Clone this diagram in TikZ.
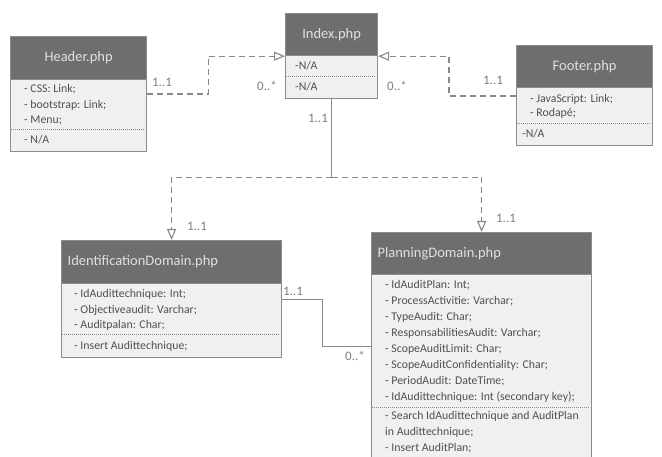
\documentclass[tikz,border=0pt]{standalone}
\usepackage{fontspec}
\setmainfont{Carlito}
\usetikzlibrary{arrows.meta}

\definecolor{band}{HTML}{6E6E6E}
\definecolor{boxbg}{HTML}{F0F0F0}
\definecolor{edge}{HTML}{8C8C8C}
\definecolor{bodytext}{HTML}{505050}
\definecolor{linkgray}{HTML}{888888}
\definecolor{multgray}{HTML}{857C74}

\tikzset{
	classbox/.style={draw=edge, line width=1.2pt, fill=boxbg, anchor=north west, inner sep=0pt},
	classtitle/.style={draw=edge, line width=1.2pt, fill=band, anchor=north west, inner xsep=6pt, inner ysep=0pt, text=white!88!black, font=\fontsize{14.5}{16}\selectfont},
	members/.style={anchor=west, align=left, inner sep=0pt, text=bodytext, font=\fontsize{11.8}{15.5}\selectfont},
	sepline/.style={draw=edge, densely dotted, line width=1pt},
	dep/.style={draw=linkgray, line width=1.1pt, dash pattern=on 6pt off 4pt, -{Triangle[open, length=11pt, width=9pt, fill=white]}},
	assoc/.style={draw=linkgray, line width=0.9pt},
	mult/.style={text=multgray, font=\fontsize{13}{14}\selectfont, inner sep=0pt}
}

\begin{document}
\begin{tikzpicture}[x=1pt, y=-1pt]
	\useasboundingbox (0,0) rectangle (662,457);
	\clip (0,0) rectangle (662,457);

	\node[classbox, minimum width=136pt, minimum height=115pt] (header) at (10,36) {};
	\node[classtitle, text width=124pt, align=center, minimum height=43pt] (header-t) at (10,36) {Header.php};
	\node[members] (header-a) at (24,105) {- CSS: Link;\\- bootstrap: Link;\\- Menu;};
	\draw[sepline] (11,130) -- (145,130);
	\node[members] (header-m) at (24,140) {- N/A};

	\node[classbox, minimum width=92pt, minimum height=85pt] (index) at (285,13) {};
	\node[classtitle, text width=80pt, align=center, minimum height=42pt] (index-t) at (285,13) {Index.php};
	\node[members] (index-a) at (295,66) {-N/A};
	\draw[sepline] (286,77) -- (376,77);
	\node[members] (index-m) at (295,87) {-N/A};

	\node[classbox, minimum width=136pt, minimum height=100pt] (footer) at (516,45) {};
	\node[classtitle, text width=124pt, align=center, minimum height=42pt] (footer-t) at (516,45) {Footer.php};
	\node[members, font=\fontsize{11.8}{14}\selectfont] (footer-a) at (530,106) {- JavaScript: Link;\\- Rodapé;};
	\draw[sepline] (517,124) -- (651,124);
	\node[members] (footer-m) at (522,134) {-N/A};

	\node[classbox, minimum width=220pt, minimum height=117pt] (ident) at (61,240) {};
	\node[classtitle, text width=208pt, align=left, minimum height=43pt] (ident-t) at (61,240) {IdentificationDomain.php};
	\node[members] (ident-a) at (74,310) {- IdAudittechnique: Int;\\- Objectiveaudit: Varchar;\\- Auditpalan: Char;};
	\draw[sepline] (62,335) -- (280,335);
	\node[members] (ident-m) at (74,346) {- Insert Audittechnique;};

	\node[classbox, minimum width=220pt, minimum height=240pt] (plan) at (371,232) {};
	\node[classtitle, text width=208pt, align=left, minimum height=42pt] (plan-t) at (371,232) {PlanningDomain.php};
	\node[members, font=\fontsize{11.8}{15.9}\selectfont] (plan-a) at (385,341.5) {- IdAuditPlan: Int;\\- ProcessActivitie: Varchar;\\- TypeAudit: Char;\\- ResponsabilitiesAudit: Varchar;\\- ScopeAuditLimit: Char;\\- ScopeAuditConfidentiality: Char;\\- PeriodAudit: DateTime;\\- IdAudittechnique: Int (secondary key);};
	\draw[sepline] (372,407) -- (590,407);
	\node[members, font=\fontsize{11.8}{15.9}\selectfont] (plan-m) at (385,432) {- Search IdAudittechnique and AuditPlan\\in Audittechnique;\\- Insert AuditPlan;};

	\draw[dep] ([yshift=-58pt]header.north east) -- ++(61,0) |- (index-t.south west);
	\draw[dep] ([yshift=-51pt]footer.north west) -- ++(-67,0) |- (index-t.south east);
	\draw[assoc] (index.south) -- ++(0,78) coordinate (fork);
	\draw[dep] (fork) -| (ident.north);
	\draw[dep] (fork) -| (plan.north);
	\draw[assoc] ([yshift=-59pt]ident.north east) -- ++(40,0) |- ([yshift=-114pt]plan.north west);

	\node[mult] (m-header) at (162,82) {1..1};
	\node[mult] (m-index-l) at (267,86) {0..*};
	\node[mult] (m-index-r) at (397,86) {0..*};
	\node[mult] (m-footer) at (493,80) {1..1};
	\node[mult] (m-index-b) at (318,118) {1..1};
	\node[mult] (m-ident-t) at (197,226) {1..1};
	\node[mult] (m-plan-t) at (506,218) {1..1};
	\node[mult] (m-ident-r) at (293,291) {1..1};
	\node[mult] (m-plan-l) at (355,356) {0..*};
\end{tikzpicture}
\end{document}
